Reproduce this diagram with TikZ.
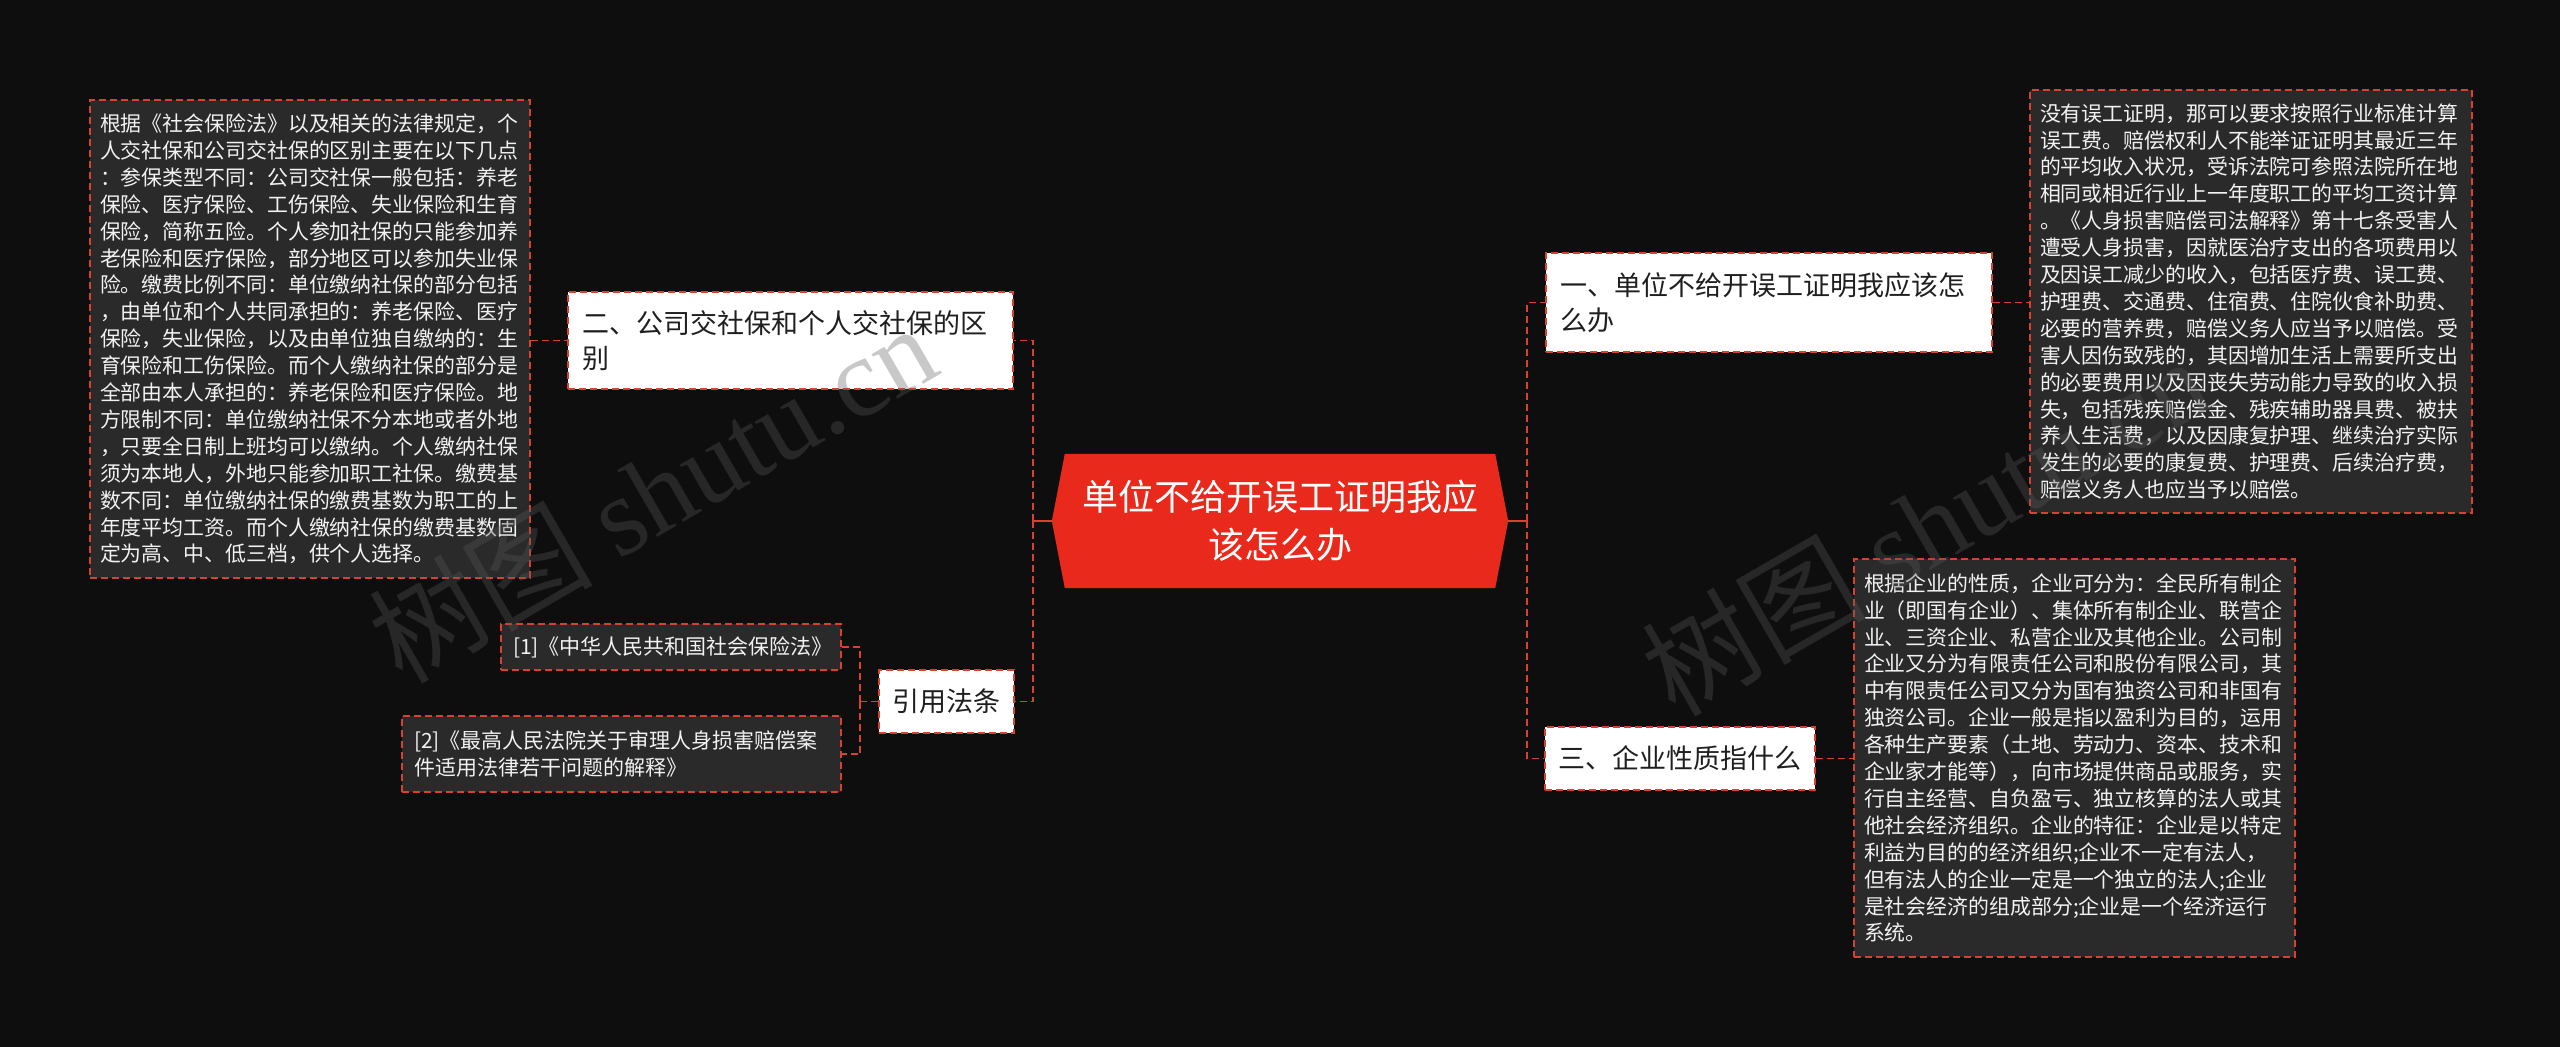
\documentclass[tikz,border=0pt]{standalone}
\usepackage{fontspec}
\newfontfamily\cjk{Noto Sans CJK SC}
\newfontfamily\wmlat{Liberation Serif}
\usetikzlibrary{calc,backgrounds}
\definecolor{bgc}{HTML}{0E0E0E}
\definecolor{boxc}{HTML}{2A2A2A}
\definecolor{linec}{HTML}{D8402F}
\definecolor{hexc}{HTML}{E9291B}
\definecolor{wmc}{HTML}{5A5A5A}
\definecolor{txtc}{HTML}{F2F2F2}
\tikzset{
  darkblock/.style={draw=linec, line width=1.6pt, dash pattern=on 7pt off 4pt, fill=boxc, text=txtc, font=\cjk\fontsize{20.9pt}{26.9pt}\selectfont, align=left, inner xsep=10pt, inner ysep=0pt},
  whitebox/.style={draw=linec, line width=1.6pt, dash pattern=on 7pt off 4pt, fill=white, text=black!88, font=\cjk\fontsize{27pt}{35pt}\selectfont, align=left, inner xsep=14pt, inner ysep=0pt},
  citebox/.style={darkblock, font=\cjk\fontsize{21pt}{27pt}\selectfont, inner xsep=12pt},
  conn/.style={draw=linec, line width=1.6pt, dash pattern=on 7pt off 4pt},
  connsolid/.style={draw=linec, line width=1.6pt},
  wm/.style={text=wmc, opacity=0.33, rotate=30, inner sep=0pt},
}
\begin{document}
\begin{tikzpicture}[x=1pt,y=-1pt]
\useasboundingbox (0,0) rectangle (2560,1047);
\begin{scope}[on background layer]
  \fill[bgc] (0,0) rectangle (2560,1047);
\end{scope}

% central node
\node[font=\cjk\fontsize{36pt}{48pt}\selectfont, text=white, align=center, minimum width=456pt, minimum height=134pt, inner sep=0pt] (c) at (1280,521) {单位不给开误工证明我应\\该怎么办};
\begin{scope}[on background layer]
  \fill[hexc] (c.west) -- ($(c.north west)+(13,0)$) -- ($(c.north east)+(-13,0)$) -- (c.east) -- ($(c.south east)+(-13,0)$) -- ($(c.south west)+(13,0)$) -- cycle;
\end{scope}

% left side
\node[darkblock, text width=420pt, minimum height=478pt] (lb) at (310,339) {根据《社会保险法》以及相关的法律规定，个\\人交社保和公司交社保的区别主要在以下几点\\：参保类型不同：公司交社保一般包括：养老\\保险、医疗保险、工伤保险、失业保险和生育\\保险，简称五险。个人参加社保的只能参加养\\老保险和医疗保险，部分地区可以参加失业保\\险。缴费比例不同：单位缴纳社保的部分包括\\，由单位和个人共同承担的：养老保险、医疗\\保险，失业保险，以及由单位独自缴纳的：生\\育保险和工伤保险。而个人缴纳社保的部分是\\全部由本人承担的：养老保险和医疗保险。地\\方限制不同：单位缴纳社保不分本地或者外地\\，只要全日制上班均可以缴纳。个人缴纳社保\\须为本地人，外地只能参加职工社保。缴费基\\数不同：单位缴纳社保的缴费基数为职工的上\\年度平均工资。而个人缴纳社保的缴费基数固\\定为高、中、低三档，供个人选择。};
\node[whitebox, text width=417pt, minimum height=97pt] (n2) at (790.5,340.5) {二、公司交社保和个人交社保的区\\别};
\node[whitebox, text width=108pt, inner xsep=13.5pt, minimum height=63pt] (law) at (946.5,701.5) {引用法条};
\node[citebox, text width=316pt, minimum height=46pt] (cite1) at (671,647) {[1]《中华人民共和国社会保险法》};
\node[citebox, text width=415pt, minimum height=76pt] (cite2) at (621.5,754) {[2]《最高人民法院关于审理人身损害赔偿案\\件适用法律若干问题的解释》};

% right side
\node[whitebox, text width=418pt, minimum height=99pt] (n1) at (1769,302.5) {一、单位不给开误工证明我应该怎\\么办};
\node[darkblock, text width=422pt, minimum height=423pt] (rt) at (2251,301.5) {没有误工证明，那可以要求按照行业标准计算\\误工费。赔偿权利人不能举证证明其最近三年\\的平均收入状况，受诉法院可参照法院所在地\\相同或相近行业上一年度职工的平均工资计算\\。《人身损害赔偿司法解释》第十七条受害人\\遭受人身损害，因就医治疗支出的各项费用以\\及因误工减少的收入，包括医疗费、误工费、\\护理费、交通费、住宿费、住院伙食补助费、\\必要的营养费，赔偿义务人应当予以赔偿。受\\害人因伤致残的，其因增加生活上需要所支出\\的必要费用以及因丧失劳动能力导致的收入损\\失，包括残疾赔偿金、残疾辅助器具费、被扶\\养人生活费，以及因康复护理、继续治疗实际\\发生的必要的康复费、护理费、后续治疗费，\\赔偿义务人也应当予以赔偿。};
\node[whitebox, text width=244pt, inner xsep=13pt, minimum height=63pt] (n3) at (1680,758.5) {三、企业性质指什么};
\node[darkblock, text width=421pt, minimum height=398pt] (rb) at (2074.5,758) {根据企业的性质，企业可分为：全民所有制企\\业（即国有企业）、集体所有制企业、联营企\\业、三资企业、私营企业及其他企业。公司制\\企业又分为有限责任公司和股份有限公司，其\\中有限责任公司又分为国有独资公司和非国有\\独资公司。企业一般是指以盈利为目的，运用\\各种生产要素（土地、劳动力、资本、技术和\\企业家才能等），向市场提供商品或服务，实\\行自主经营、自负盈亏、独立核算的法人或其\\他社会经济组织。企业的特征：企业是以特定\\利益为目的的经济组织;企业不一定有法人，\\但有法人的企业一定是一个独立的法人;企业\\是社会经济的组成部分;企业是一个经济运行\\系统。};

% spines
\coordinate (lsp) at (1033,0);
\coordinate (csp) at (860,0);
\coordinate (rsp) at (1527,0);

% connectors
\draw[connsolid] (c.west) -- (c.west -| lsp);
\draw[conn] (c.west -| lsp) |- (n2.east);
\draw[conn] (c.west -| lsp) |- (law.east);
\draw[conn] (n2.west -| lb.east) -- (n2.west);
\draw[conn] (law.west) -- (law.west -| csp);
\draw[conn] (law.west -| csp) |- (cite1.east);
\draw[conn] (law.west -| csp) |- (cite2.east);
\draw[connsolid] (c.east) -- (c.east -| rsp);
\draw[conn] (c.east -| rsp) |- (n1.west);
\draw[conn] (c.east -| rsp) |- (n3.west);
\draw[conn] (n1.east) -- (n1.east -| rt.west);
\draw[conn] (n3.east) -- (n3.east -| rb.west);

% watermarks
\node[wm] (wm1) at (652,492) {\cjk\fontsize{112pt}{112pt}\selectfont 树图 \wmlat shutu.cn};
\node[wm] (wm2) at (1925,525) {\cjk\fontsize{112pt}{112pt}\selectfont 树图 \wmlat shutu.cn};
\end{tikzpicture}
\end{document}
